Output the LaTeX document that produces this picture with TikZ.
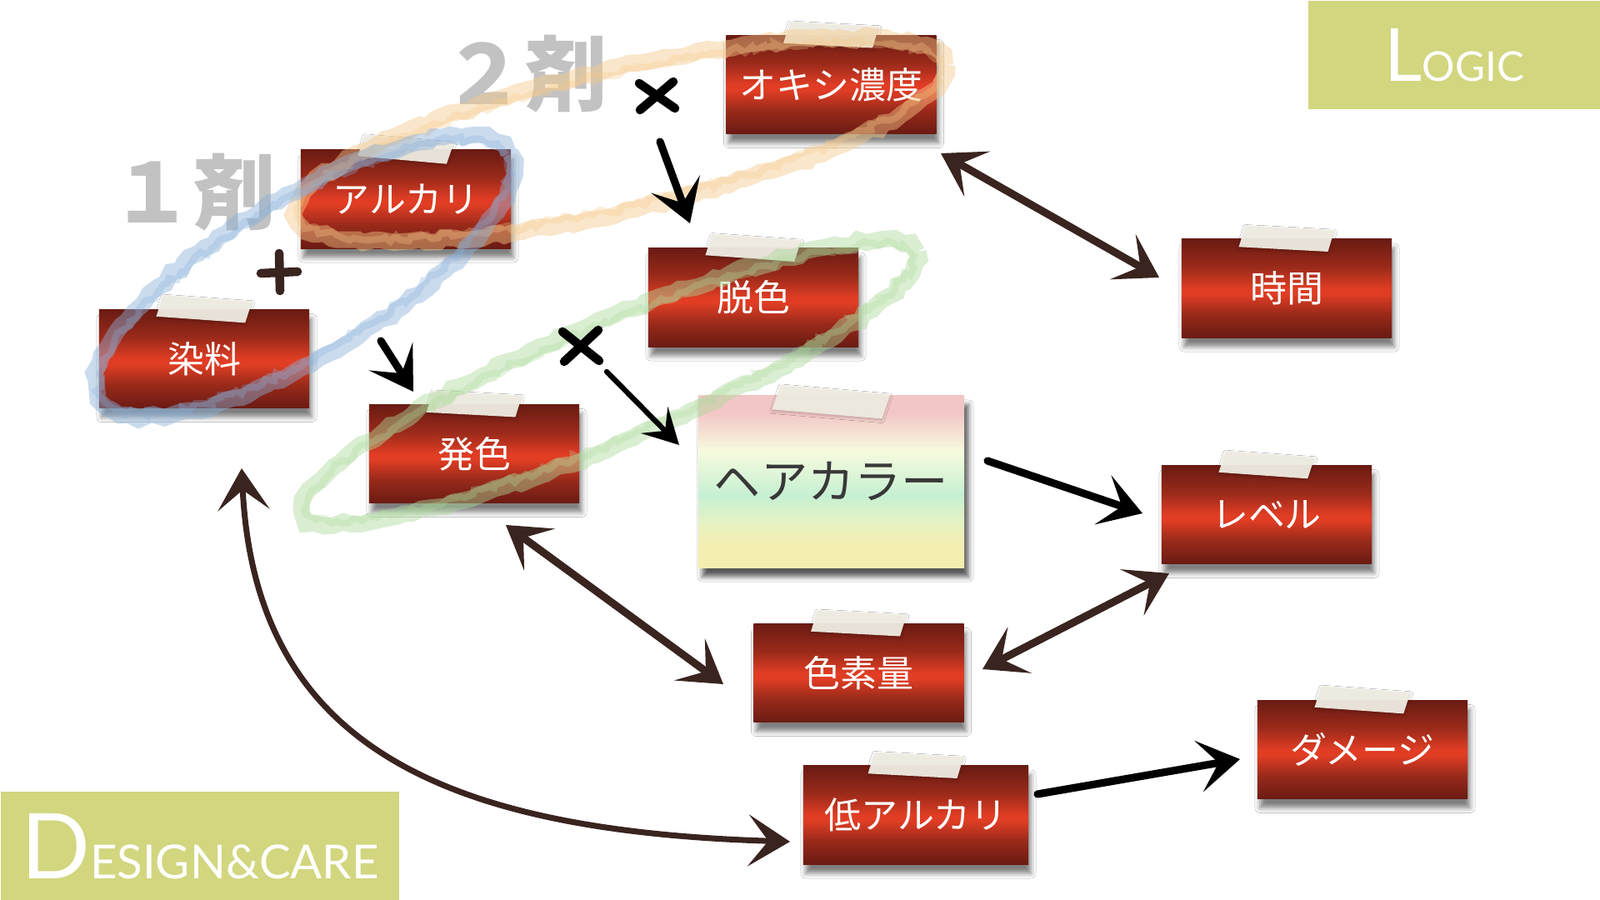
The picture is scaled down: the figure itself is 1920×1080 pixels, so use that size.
\documentclass[tikz,border=0pt]{standalone}
\usepackage{fontspec}
\setmainfont{Noto Sans CJK JP}
\newfontfamily\latofont{Lato}
\usetikzlibrary{arrows.meta,shadows.blur,decorations.pathmorphing,calc}

\definecolor{rdk}{HTML}{6A1B13}
\definecolor{rmd}{HTML}{9A2A1A}
\definecolor{rbr}{HTML}{E03D24}
\definecolor{inkc}{HTML}{3A241F}
\definecolor{logicg}{HTML}{D2D67F}
\definecolor{chalko}{HTML}{F6C98A}
\definecolor{chalkb}{HTML}{8AB0DA}
\definecolor{chalkg}{HTML}{ADDB9C}
\definecolor{tapec}{HTML}{EFECE2}
\definecolor{hpink}{HTML}{F2C6C6}
\definecolor{hcream}{HTML}{F7FADE}
\definecolor{hmint}{HTML}{C6F0D2}
\definecolor{hlime}{HTML}{E6F2C2}
\definecolor{hyel}{HTML}{F4EEB0}
\definecolor{graytxt}{HTML}{C2C2C2}

\pgfdeclareverticalshading{redbar}{100bp}{color(0bp)=(rdk); color(25bp)=(rdk); color(37bp)=(rmd); color(47bp)=(rbr); color(50bp)=(rbr); color(61bp)=(rmd); color(75bp)=(rdk); color(100bp)=(rdk)}
\pgfdeclareverticalshading{hairsh}{100bp}{color(0bp)=(hyel); color(25bp)=(hyel); color(31bp)=(hyel); color(38bp)=(hlime); color(46bp)=(hmint); color(59bp)=(hcream); color(70bp)=(hpink); color(75bp)=(hpink); color(100bp)=(hpink)}

\newcommand\tapeon[2]{%
  \begin{scope}[shift={(#1.north)}, rotate=#2]
    \fill[tapec, opacity=0.95, blur shadow={shadow xshift=0pt, shadow yshift=-0.02cm, shadow blur radius=0.03cm, shadow opacity=20}]
      (-50,-14) -- (57,-12) -- (50,14) -- (-57,12) -- cycle;
  \end{scope}}

\begin{document}
\begin{tikzpicture}[x=0.01cm, y=-0.01cm,
  rbox/.style={shade, shading=redbar, minimum width=2.52cm, minimum height=1.18cm, inner sep=0pt,
    text=white, font=\fontsize{12.5}{12.5}\selectfont,
    blur shadow={shadow xshift=0.03cm, shadow yshift=-0.11cm, shadow blur radius=0.06cm, shadow opacity=50}},
  hairbox/.style={shade, shading=hairsh, minimum width=3.19cm, minimum height=2.06cm, inner sep=0pt,
    text=black!78, font=\fontsize{16}{16}\selectfont,
    blur shadow={shadow xshift=0.05cm, shadow yshift=-0.11cm, shadow blur radius=0.06cm, shadow opacity=65}},
  graylbl/.style={text=graytxt, font=\bfseries\fontsize{28}{28}\selectfont, inner sep=0pt},
  greenbox/.style={fill=logicg, inner sep=0pt, anchor=north west},
  latin/.style={text=white, inner sep=0pt},
  chalk/.style={line width=0.2cm, draw opacity=0.45, decorate, decoration={random steps, segment length=3pt, amplitude=0.9pt}},
  chalkthin/.style={line width=0.08cm, draw opacity=0.3, decorate, decoration={random steps, segment length=2pt, amplitude=1.2pt}},
  inkline/.style={draw=inkc, line width=2.6pt, line cap=round, line join=round},
  xmarkstroke/.style={line width=3pt, line cap=round},
  >={Stealth[length=0.5cm, width=0.62cm, inset=0.24cm]}
  ]
\useasboundingbox (0,0) rectangle (1920,1080);
\fill[white] (0,0) rectangle (1920,1080);

% corner labels
\node[greenbox, minimum width=3.51cm, minimum height=1.30cm] (logicbox) at (1569,0) {};
\node[latin] (logic) at (logicbox.center) {\latofont\fontsize{25}{25}\selectfont L\fontsize{14}{14}\selectfont OGIC};
\node[greenbox, minimum width=4.78cm, minimum height=1.31cm] (dcbox) at (0,949) {};
\node[latin] (dc) at (dcbox.center) {\latofont\fontsize{31}{31}\selectfont D\fontsize{16}{16}\selectfont ESIGN\&CARE};

% gray labels
\node[graylbl] (ichi) at (232,231) {１剤};
\node[graylbl] (ni) at (630,89) {２剤};

% boxes
\node[rbox] (oxi) at (997.5,101.5) {オキシ濃度};
\node[rbox] (alk) at (487,239) {アルカリ};
\node[rbox] (dye) at (245,430.5) {染料};
\node[rbox] (dec) at (904,357) {脱色};
\node[rbox] (time) at (1544,346) {時間};
\node[rbox] (hatsu) at (569,544.5) {発色};
\node[hairbox] (hair) at (997.5,578) {ヘアカラー};
\node[rbox] (level) at (1520,617.5) {レベル};
\node[rbox] (pig) at (1030.5,807.5) {色素量};
\node[rbox] (dmg) at (1635,899.5) {ダメージ};
\node[rbox, minimum width=2.70cm] (low) at (1099,978) {低アルカリ};

% tapes
\tapeon{oxi}{-2}
\tapeon{alk}{-4}
\tapeon{dye}{-3}
\tapeon{dec}{-3}
\tapeon{time}{-2}
\tapeon{hatsu}{-2}
\begin{scope}[shift={(hair.north)}, shift={(0,8)}, rotate=-4]
  \fill[tapec, opacity=0.95, blur shadow={shadow xshift=0pt, shadow yshift=-0.02cm, shadow blur radius=0.03cm, shadow opacity=20}]
    (-62,-16) -- (70,-14) -- (62,16) -- (-70,14) -- cycle;
\end{scope}
\tapeon{level}{-3}
\tapeon{pig}{-2}
\tapeon{dmg}{-3}
\tapeon{low}{-2}

% chalk loops
\draw[chalk, draw=chalko, rotate around={13:(744,168)}] (744,168) ellipse [x radius=4.0cm, y radius=0.85cm];
\draw[chalkthin, draw=chalko, rotate around={13:(744,168)}] (744,168) ellipse [x radius=3.95cm, y radius=0.8cm];
\draw[chalk, draw=chalkb, rotate around={31:(365,332)}] (365,332) ellipse [x radius=2.86cm, y radius=0.95cm];
\draw[chalkthin, draw=chalkb, rotate around={31:(365,332)}] (365,332) ellipse [x radius=2.82cm, y radius=0.9cm];
\draw[chalk, draw=chalkg, rotate around={23:(732,459)}] (732,459) ellipse [x radius=4.0cm, y radius=0.72cm];
\draw[chalkthin, draw=chalkg, rotate around={23:(732,459)}] (732,459) ellipse [x radius=3.95cm, y radius=0.68cm];

% marks
\draw[xmarkstroke, black] (767,100) -- (810,130) (808,98) -- (768,132);
\draw[xmarkstroke, black] (675,398) -- (719,433) (718,396) -- (677,434);
\draw[xmarkstroke, inkc] (335,304) -- (336,349) (313,328) -- (357,326);

% connector end points
\coordinate (oxiOut) at (792,170);
\coordinate (decIn) at (828,268);
\coordinate (plusOut) at (457,409);
\coordinate (hatsuIn) at (496,470);
\coordinate (crossOut) at (728,446);
\coordinate (hairIn) at (815,534);
\coordinate (oxiSide) at (1129,184);
\coordinate (timeSide) at (1391,333);
\coordinate (hairOut) at (1185,553);
\coordinate (levelIn) at (1371,616);
\coordinate (hatsuSide) at (607,630);
\coordinate (pigSide) at (868,821);
\coordinate (levelSide) at (1403,688);
\coordinate (pigSide2) at (1179,803);
\coordinate (dyeSide) at (290,562);
\coordinate (lowSide) at (948,1010);
\coordinate (lowOut) at (1245,953);
\coordinate (dmgIn) at (1488,911);

% connectors
\draw[inkline, draw=black, ->] (oxiOut) -- (decIn);
\draw[inkline, draw=black, ->] (plusOut) -- (hatsuIn);
\draw[inkline, draw=black, line width=1.8pt, -{Stealth[length=0.42cm, width=0.45cm, inset=0.18cm]}] (crossOut) -- (hairIn);
\draw[inkline, <->] (oxiSide) -- (timeSide);
\draw[inkline, draw=black, ->] (hairOut) -- (levelIn);
\draw[inkline, <->] (hatsuSide) -- (pigSide);
\draw[inkline, <->] (levelSide) -- (pigSide2);
\draw[inkline, line width=2pt, <->] (dyeSide) .. controls (306,892) and (527,997) .. (lowSide);
\draw[inkline, draw=black, ->] (lowOut) -- (dmgIn);
\end{tikzpicture}
\end{document}
